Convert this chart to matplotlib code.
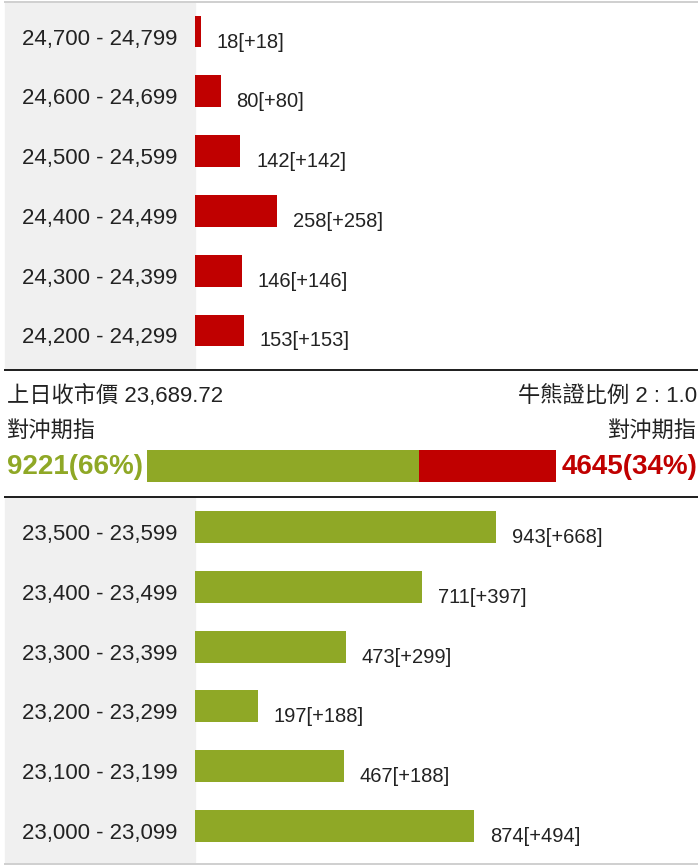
import matplotlib.pyplot as plt
from matplotlib.lines import Line2D
from matplotlib.patches import Rectangle
from matplotlib import transforms

# data
top_ranges = ['24,700 - 24,799', '24,600 - 24,699', '24,500 - 24,599',
              '24,400 - 24,499', '24,300 - 24,399', '24,200 - 24,299']
top_values = [18, 80, 142, 258, 146, 153]
top_changes = [18, 80, 142, 258, 146, 153]

bottom_ranges = ['23,500 - 23,599', '23,400 - 23,499', '23,300 - 23,399',
                 '23,200 - 23,299', '23,100 - 23,199', '23,000 - 23,099']
bottom_values = [943, 711, 473, 197, 467, 874]
bottom_changes = [668, 397, 299, 188, 188, 494]

prev_close = '23,689.72'
cbbc_ratio = '2 : 1.0'
bull_count = 9221
bear_count = 4645
bull_pct = 66
bear_pct = 34

RED = '#c00000'
GREEN = '#8fa826'
GREY_BG = '#f0f0f0'
TXT = '#222222'
plt.rcParams['font.family'] = ['Liberation Sans', 'Noto Sans CJK TC', 'DejaVu Sans']

W, H = 700, 866
fig = plt.figure(figsize=(W / 100, H / 100), dpi=100)


def fx(px):
    return px / W


def fy(py):
    return 1 - py / H


def px_pt(px):
    return px * 72 / 100


SCALE = 0.319  # pixels per contract
ROW = 59.8     # pixels per row


def section(y0, y1, first_center, ranges, values, changes, color):
    # grey label panel behind everything
    fig.patches.append(Rectangle((fx(5), fy(y1)), fx(195) - fx(5), fy(y0) - fy(y1),
                                 transform=fig.transFigure, color=GREY_BG, zorder=-5))
    ax = fig.add_axes([fx(195), fy(y1), fx(697) - fx(195), fy(y0) - fy(y1)])
    ax.set_axis_off()
    ys = list(range(len(values)))
    ax.barh(ys, values, height=32 / ROW, color=color)
    ax.set_xlim(0, (697 - 195) / SCALE)
    ax.set_ylim((y1 - first_center) / ROW, -(first_center - y0) / ROW)
    trans = transforms.blended_transform_factory(fig.transFigure, ax.transData)
    trans = transforms.offset_copy(trans, fig=fig, y=-7.5, units='dots')
    for y, r, v, c in zip(ys, ranges, values, changes):
        ax.text(fx(100), y, r, transform=trans, ha='center', va='center',
                fontsize=16, color=TXT, clip_on=False)
        ax.annotate(f'{v}[+{c}]', xy=(v, y), xytext=(px_pt(16), px_pt(-10.5)),
                    textcoords='offset points', ha='left', va='center',
                    fontsize=14.5, color=TXT)
    return ax


section(3, 369, 31.5, top_ranges, top_values, top_changes, RED)
section(498, 862, 527, bottom_ranges, bottom_values, bottom_changes, GREEN)

# separator lines
for yy in (2, 864):
    fig.add_artist(Line2D([fx(5), fx(697)], [fy(yy)] * 2, transform=fig.transFigure,
                          color='#d0d0d0', lw=px_pt(2)))
for yy in (370, 497):
    fig.add_artist(Line2D([fx(5), fx(697)], [fy(yy)] * 2, transform=fig.transFigure,
                          color='#222222', lw=px_pt(2)))

# middle summary
fig.text(fx(7), fy(396), f'上日收市價 {prev_close}', ha='left', va='center',
         fontsize=16, color=TXT)
fig.text(fx(697), fy(396), f'牛熊證比例 {cbbc_ratio}', ha='right', va='center',
         fontsize=16, color=TXT)
fig.text(fx(7), fy(431), '對沖期指', ha='left', va='center', fontsize=16, color=TXT)
fig.text(fx(697), fy(431), '對沖期指', ha='right', va='center', fontsize=16, color=TXT)

fig.text(fx(7), fy(467), f'{bull_count}({bull_pct}%)', ha='left', va='center',
         fontsize=20, fontweight='bold', color=GREEN)
fig.text(fx(697), fy(467), f'{bear_count}({bear_pct}%)', ha='right', va='center',
         fontsize=20, fontweight='bold', color=RED)

total = bull_count + bear_count
axm = fig.add_axes([fx(147), fy(482), fx(556) - fx(147), fy(450) - fy(482)])
axm.set_axis_off()
axm.barh([0], [bull_count], height=1, color=GREEN)
axm.barh([0], [bear_count], left=[bull_count], height=1, color=RED)
axm.set_xlim(0, total)
axm.set_ylim(-0.5, 0.5)

fig.savefig('out.png', dpi=100)
